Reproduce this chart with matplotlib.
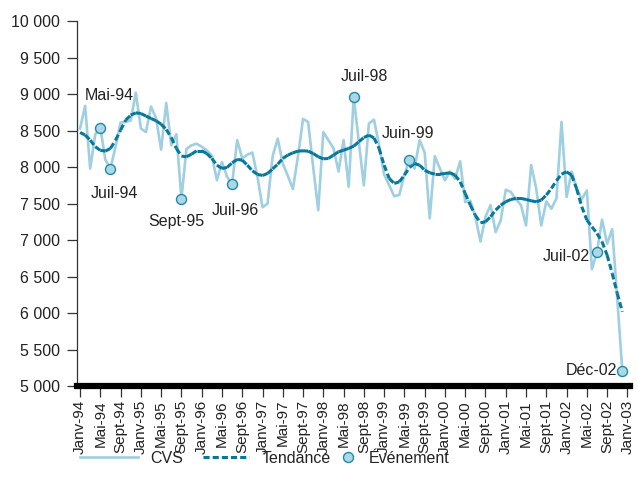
import numpy as np
import matplotlib
matplotlib.use("Agg")
import matplotlib.pyplot as plt
from matplotlib.collections import LineCollection
from matplotlib.lines import Line2D

plt.rcParams["font.family"] = ["Liberation Sans", "DejaVu Sans"]

# Série mensuelle, janvier 1994 à décembre 2002 (108 mois)
cvs = [
    8530, 8840, 7980, 8450, 8540, 8100, 7980, 8280, 8610, 8620, 8640, 9020,
    8530, 8480, 8830, 8670, 8240, 8880, 8300, 8450, 7570, 8250, 8300, 8320,
    8280, 8230, 8160, 7820, 8070, 7870, 7770, 8370, 8120, 8170, 8200, 7870,
    7450, 7500, 8150, 8390, 8050, 7880, 7700, 8150, 8660, 8620, 8000, 7410,
    8480, 8370, 8260, 7940, 8370, 7730, 8960, 8350, 7750, 8600, 8650, 8300,
    7900, 7750, 7600, 7620, 7900, 8100, 7980, 8370, 8200, 7300, 8150, 7980,
    7820, 7940, 7840, 8080, 7520, 7540, 7320, 6980, 7320, 7480, 7110, 7270,
    7690, 7660, 7560, 7480, 7200, 8030, 7710, 7200, 7530, 7430, 7570, 8620,
    7590, 7940, 7700, 7560, 7680, 6600, 6840, 7280, 6950, 7150, 6200, 5210,
]
tendance = [
    8475, 8440, 8370, 8280, 8230, 8220, 8256, 8370, 8507, 8644, 8712, 8744,
    8735, 8700, 8667, 8635, 8589, 8516, 8406, 8256, 8151, 8142, 8178, 8224,
    8224, 8187, 8119, 8027, 7982, 7995, 8059, 8105, 8096, 8027, 7950, 7900,
    7886, 7913, 7975, 8040, 8119, 8165, 8196, 8219, 8224, 8219, 8187, 8142,
    8114, 8119, 8165, 8210, 8233, 8256, 8288, 8347, 8406, 8438, 8400, 8256,
    8027, 7845, 7776, 7799, 7890, 7995, 8050, 8027, 7959, 7922, 7904, 7904,
    7913, 7922, 7890, 7799, 7639, 7480, 7340, 7237, 7251, 7320, 7411, 7479,
    7525, 7557, 7571, 7571, 7557, 7539, 7525, 7548, 7617, 7708, 7813, 7904,
    7936, 7890, 7700, 7457, 7274, 7183, 7091, 6977, 6794, 6543, 6269, 6018,
]
evenements_mois = [4, 6, 20, 30, 54, 65, 102, 107]
evenements_noms = ["Mai-94", "Juil-94", "Sept-95", "Juil-96", "Juil-98", "Juin-99", "Juil-02", "Déc-02"]

etiquettes_x = [
    "Janv-94", "Mai-94", "Sept-94", "Janv-95", "Mai-95", "Sept-95", "Janv-96",
    "Mai-96", "Sept-96", "Janv-97", "Mai-97", "Sept-97", "Janv-98", "Mai-98",
    "Sept-98", "Janv-99", "Mai-99", "Sept-99", "Janv-00", "Mai-00", "Sept-00",
    "Janv-01", "Mai-01", "Sept-01", "Janv-02", "Mai-02", "Sept-02", "Janv-03",
]
graduations_y = [5000, 5500, 6000, 6500, 7000, 7500, 8000, 8500, 9000, 9500, 10000]
etiquettes_y = ["5 000", "5 500", "6 000", "6 500", "7 000", "7 500", "8 000",
                "8 500", "9 000", "9 500", "10 000"]

# décalages des étiquettes d'événements (pixels)
decalages = [(9, 32), (4, -25), (-5, -23), (3, -27), (11, 21), (-2, 26), (-31, -5), (-31, 0)]

C_CVS = "#9fcfe0"
C_TEND = "#08789a"
C_MARK_FACE = "#abd8e7"
C_MARK_EDGE = "#2088a8"
C_TXT = "#222222"
TAILLE = 11

mois = np.arange(len(cvs))
cvs = np.array(cvs)
tendance = np.array(tendance)

fig = plt.figure(figsize=(6.37, 4.93), dpi=100)
ax = fig.add_axes([0.1209, 0.217, 0.868, 0.740])

ax.plot(mois, cvs, color=C_CVS, lw=1.9, zorder=2)

# la tendance : chaque segment recommence son motif de tirets
points = np.column_stack([mois, tendance]).reshape(-1, 1, 2)
segments = np.concatenate([points[:-1], points[1:]], axis=1)
lc = LineCollection(segments, colors=C_TEND, linewidths=2.2,
                    linestyles=[(0, (2.0, 1.0))], capstyle="butt", zorder=3)
ax.add_collection(lc)

ev_y = cvs[evenements_mois]
ax.plot(evenements_mois, ev_y, ls="none", marker="o", ms=7.2,
        mfc=C_MARK_FACE, mec=C_MARK_EDGE, mew=1.0, zorder=4)
for m, y, nom, (dx, dy) in zip(evenements_mois, ev_y, evenements_noms, decalages):
    ax.annotate(nom, (m, y), xytext=(dx, dy), textcoords="offset pixels",
                ha="center", va="center", fontsize=TAILLE + 0.5, color=C_TXT)

ax.set_xlim(-0.6, 108.5)
ax.set_ylim(5000, 10000)
ax.set_xticks(np.arange(0, 109, 4))
ax.set_xticklabels(etiquettes_x, rotation=90, fontsize=TAILLE, color=C_TXT)
ax.set_yticks(graduations_y)
ax.set_yticklabels(etiquettes_y, fontsize=TAILLE + 0.5, color=C_TXT)

for s in ["top", "right"]:
    ax.spines[s].set_visible(False)
ax.spines["left"].set_color("#333333")
ax.spines["left"].set_linewidth(0.9)
ax.spines["bottom"].set_color("black")
ax.spines["bottom"].set_linewidth(4.5)
ax.tick_params(axis="y", direction="out", length=7, width=0.9, color="#333333", pad=5)
ax.tick_params(axis="x", direction="out", length=8, width=0.9, color="#333333", pad=2)

# légende en trois morceaux
h1 = Line2D([], [], color=C_CVS, lw=1.9)
h2 = Line2D([], [], color=C_TEND, lw=2.2, ls=(0, (2.0, 1.0)))
h3 = Line2D([], [], ls="none", marker="o", ms=7.2, mfc=C_MARK_FACE, mec=C_MARK_EDGE, mew=1.0)
for h, nom, x0, hl in [(h1, "CVS", 80, 3.6), (h2, "Tendance", 203, 2.9), (h3, "Événement", 340, 1.0)]:
    leg = fig.legend([h], [nom], loc="center left", bbox_to_anchor=(x0 / 637, 0.07),
                     frameon=False, borderpad=0, borderaxespad=0, handlelength=hl,
                     handletextpad=0.8, fontsize=TAILLE + 0.5)
    for t in leg.get_texts():
        t.set_color(C_TXT)

fig.savefig("out.png", dpi=100)
